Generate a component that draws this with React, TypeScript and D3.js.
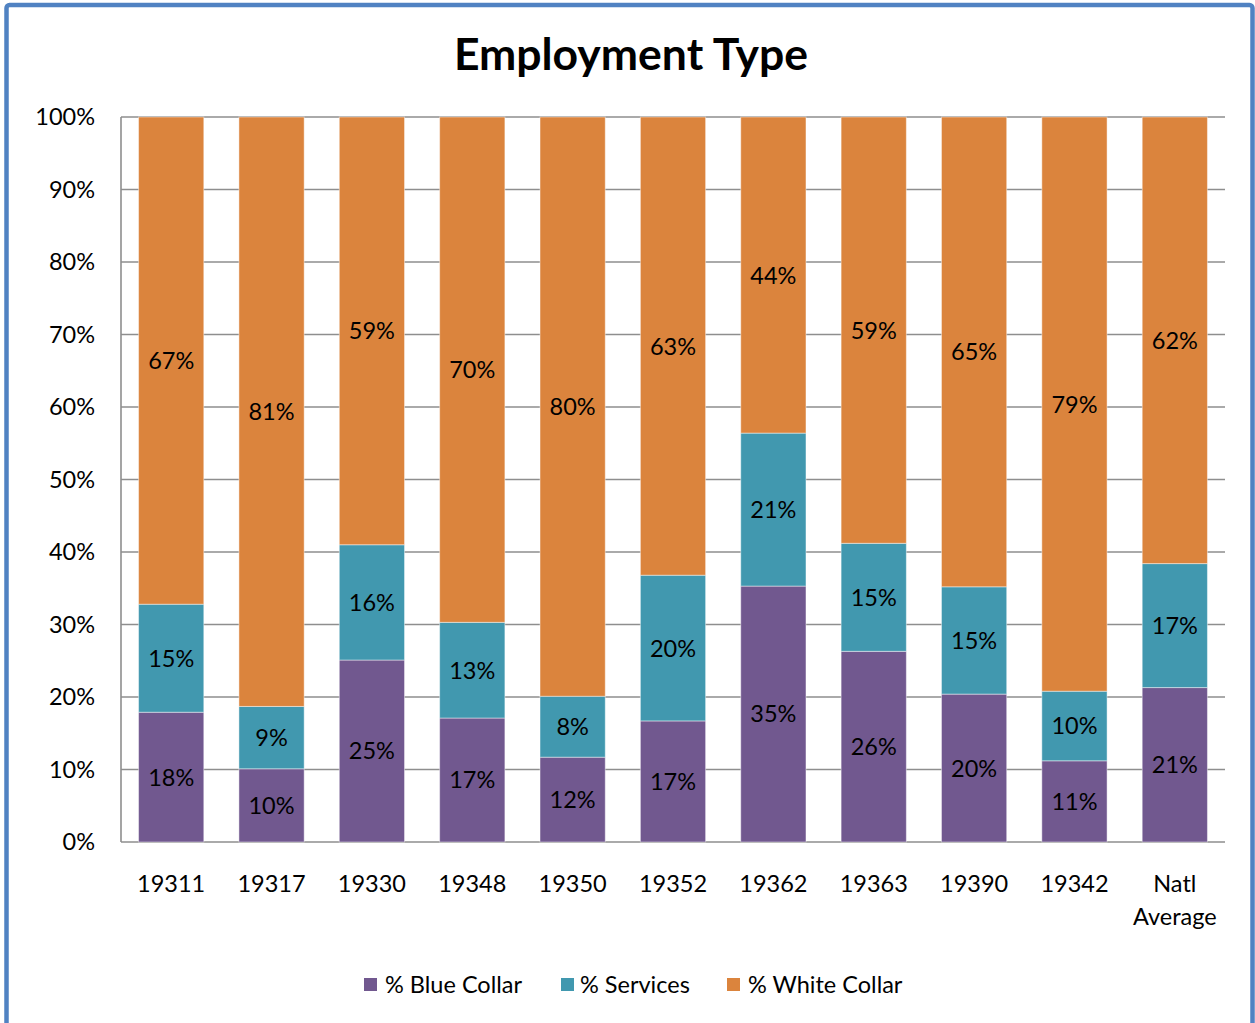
import React from "react";
import * as d3 from "d3";

const categories = ["19311", "19317", "19330", "19348", "19350", "19352", "19362", "19363", "19390", "19342", "Natl Average"];
const blueCollar = [17.9, 10.1, 25.1, 17.1, 11.7, 16.7, 35.3, 26.3, 20.4, 11.2, 21.3];
const services = [14.9, 8.6, 15.9, 13.2, 8.4, 20.1, 21.1, 14.9, 14.8, 9.6, 17.1];
const whiteCollar = [67.2, 81.3, 59.0, 69.7, 79.9, 63.2, 43.6, 58.8, 64.8, 79.2, 61.6];
const seriesNames = ["% Blue Collar", "% Services", "% White Collar"];
const seriesColors = ["#71588f", "#4198af", "#db843d"];
const yTicks = [0, 10, 20, 30, 40, 50, 60, 70, 80, 90, 100];

const W = 1255;
const H = 1023;
const FONT = "Lato, 'Open Sans', sans-serif";
const FS = 23.5;
const DY = 2.5;

export default function App() {
  const x = d3.scaleBand<string>().domain(categories).range([121, 1225]).paddingInner(0.35).paddingOuter(0.175);
  const y = d3.scaleLinear().domain([0, 100]).range([842, 117]);
  const fmt = (v: number) => d3.format(".0f")(v) + "%";

  const rows = categories.map((c, i) => ({
    cat: c,
    blue: blueCollar[i],
    serv: services[i],
    white: whiteCollar[i],
  }));
  const stack = d3.stack<any>().keys(["blue", "serv", "white"]);
  const series = stack(rows);

  const legendItems = [
    { name: seriesNames[0], color: seriesColors[0], sx: 364, tx: 385 },
    { name: seriesNames[1], color: seriesColors[1], sx: 561, tx: 580 },
    { name: seriesNames[2], color: seriesColors[2], sx: 727, tx: 748 },
  ];

  return (
    <svg width={W} height={H} style={{ position: "absolute", left: 0, top: 0, background: "#fff" }} fontFamily={FONT}>
      <rect x={6.5} y={5} width={1246} height={1040} rx={3} fill="#fff" stroke="#5082c2" strokeWidth={4.5} />
      <text x={631} y={59} textAnchor="middle" dominantBaseline="middle" fontSize={44.5} fontWeight="bold" fill="#000">
        Employment Type
      </text>
      {yTicks.map((t) => (
        <g key={t}>
          <line x1={121} x2={1225} y1={y(t)} y2={y(t)} stroke="#8e8e8e" strokeWidth={1.6} />
          <text x={95} y={y(t) + DY} textAnchor="end" dominantBaseline="middle" fontSize={FS} fill="#000">
            {t}%
          </text>
        </g>
      ))}
      <line x1={121} x2={121} y1={117} y2={842} stroke="#8e8e8e" strokeWidth={1.6} />
      {series.map((s, si) => (
        <g key={si}>
          {s.map((d, i) => {
            const x0 = x(categories[i]) as number;
            const bw = x.bandwidth();
            const yTop = y(d[1]);
            const yBot = y(d[0]);
            return (
              <g key={i}>
                <rect x={x0} y={yTop} width={bw} height={yBot - yTop} fill={seriesColors[si]} stroke="#ffffff" strokeOpacity={0.45} strokeWidth={1} />
                <text x={x0 + bw / 2} y={(yTop + yBot) / 2 + DY} textAnchor="middle" dominantBaseline="middle" fontSize={FS} fill="#000">
                  {fmt(d[1] - d[0])}
                </text>
              </g>
            );
          })}
        </g>
      ))}
      {categories.map((c) => {
        const cx = (x(c) as number) + x.bandwidth() / 2;
        const parts = c.split(" ");
        return (
          <text key={c} x={cx} textAnchor="middle" fontSize={FS} fill="#000">
            {parts.map((p, k) => (
              <tspan key={k} x={cx} y={884 + DY + k * 33} dominantBaseline="middle">
                {p}
              </tspan>
            ))}
          </text>
        );
      })}
      {legendItems.map((l) => (
        <g key={l.name}>
          <rect x={l.sx} y={978} width={13} height={13} fill={l.color} />
          <text x={l.tx} y={985 + DY} dominantBaseline="middle" fontSize={FS} fill="#000">
            {l.name}
          </text>
        </g>
      ))}
    </svg>
  );
}
